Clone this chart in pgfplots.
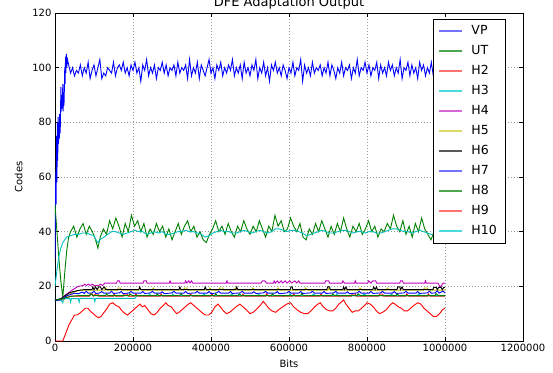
\documentclass[border=0pt]{standalone}
\usepackage{fontspec}
\setmainfont{DejaVu Sans}
\usepackage{pgfplots}
\pgfplotsset{compat=1.18}

\definecolor{mb}{rgb}{0,0,1}
\definecolor{mg}{rgb}{0,0.5,0}
\definecolor{mr}{rgb}{1,0,0}
\definecolor{mc}{rgb}{0,0.75,0.75}
\definecolor{mm}{rgb}{0.75,0,0.75}
\definecolor{my}{rgb}{0.75,0.75,0}
\definecolor{lb}{rgb}{0.45,0.45,1}
\definecolor{lg}{rgb}{0.3,0.65,0.3}
\definecolor{lr}{rgb}{1,0.45,0.45}
\definecolor{lc}{rgb}{0.3,0.85,0.85}
\definecolor{lm}{rgb}{0.85,0.4,0.85}
\definecolor{ly}{rgb}{0.85,0.85,0.4}
\definecolor{lk}{rgb}{0.35,0.35,0.35}

\begin{document}
\begin{tikzpicture}
\begin{axis}[
  scale only axis, width=468pt, height=328pt,
  xmin=0, xmax=1200000, ymin=0, ymax=120,
  xtick={0,200000,400000,600000,800000,1000000,1200000},
  ytick={0,20,40,60,80,100,120},
  scaled x ticks=false,
  x tick label style={/pgf/number format/fixed,/pgf/number format/1000 sep={}},
  /pgf/number format/assume math mode=true,
  tick label style={font=\fontsize{10}{12}\selectfont},
  label style={font=\fontsize{10}{12}\selectfont},
  xlabel={Bits}, ylabel={Codes},
  xlabel style={yshift=-1pt}, ylabel style={yshift=3pt},
  grid=major,
  major grid style={dash pattern=on 1pt off 2pt, gray!80, line width=0.5pt},
  tick align=inside, major tick length=4pt,
  tick style={black, line width=0.6pt},
  axis line style={line width=0.8pt},
  legend style={at={(0.9615,0.982)}, anchor=north east,
    font=\fontsize{12.5}{15}\selectfont, inner xsep=5pt, inner ysep=2pt,
    nodes={text height=9pt, text depth=2.5pt, inner ysep=4.25pt, inner xsep=3pt},
    column sep=6pt},
  legend cell align=left,
]
% VP
\addplot[color=mb, line width=0.9pt, forget plot] coordinates {
(0,30)(1000,45)(2000,62)(3000,50)(4000,75)(5000,58)(6000,80)(7000,66)(8000,82)(9000,72)(10000,80)(11000,74)(12000,83)(13000,76)(14000,80)(15000,93)(16000,84)(17000,90)(18000,85)(19000,88)(20000,94)(21000,84)(22000,91)(23000,86)(24000,92)(25000,100)(26000,94)(27000,104)(28000,98)(29000,105)(30000,100)(32000,103)
(35000,101)(40000,98)(45000,100)(50000,97)(55000,99)(60000,98)(65000,101)(70000,97)(75000,100)(80000,98)(85000,102)(90000,96)(95000,99)(100000,101)(105000,97)(110000,100)(115000,103)(120000,96)(125000,98)(130000,97)(135000,100)(140000,99)(145000,98)(150000,102)(155000,97)(160000,100)(165000,101)(170000,99)(175000,102)(180000,98)(185000,100)(190000,97)(195000,101)(200000,99)
(205000,102)(210000,98)(215000,100)(220000,95)(225000,101)(230000,99)(235000,103)(240000,97)(245000,100)(250000,98)(255000,101)(260000,96)(265000,100)(270000,99)(275000,102)(280000,98)(285000,101)(290000,97)(295000,100)(300000,99)(305000,101)(310000,97)(315000,102)(320000,98)(325000,100)(330000,99)(335000,101)(340000,96)(345000,103)(350000,97)(355000,100)(360000,98)(365000,102)(370000,96)(375000,101)(380000,99)(385000,97)(390000,100)(395000,103)(400000,98)
(405000,100)(410000,96)(415000,101)(420000,99)(425000,102)(430000,97)(435000,100)(440000,98)(445000,101)(450000,99)(455000,103)(460000,97)(465000,100)(470000,98)(475000,101)(480000,96)(485000,102)(490000,98)(495000,100)(500000,97)(505000,101)(510000,99)(515000,103)(520000,96)(525000,100)(530000,98)(535000,102)(540000,97)(545000,100)(550000,95)(555000,101)(560000,99)(565000,102)(570000,98)(575000,100)(580000,97)(585000,101)(590000,99)(595000,96)(600000,100)
(605000,98)(610000,102)(615000,97)(620000,100)(625000,99)(630000,103)(635000,95)(640000,101)(645000,98)(650000,100)(655000,97)(660000,102)(665000,98)(670000,100)(675000,99)(680000,101)(685000,97)(690000,100)(695000,98)(700000,102)(705000,97)(710000,101)(715000,99)(720000,96)(725000,100)(730000,98)(735000,102)(740000,97)(745000,100)(750000,99)(755000,101)(760000,96)(765000,100)(770000,98)(775000,103)(780000,97)(785000,100)(790000,99)(795000,102)(800000,98)
(805000,101)(810000,97)(815000,100)(820000,99)(825000,102)(830000,96)(835000,101)(840000,98)(845000,100)(850000,97)(855000,102)(860000,99)(865000,101)(870000,97)(875000,100)(880000,98)(885000,103)(890000,96)(895000,100)(900000,99)(905000,102)(910000,97)(915000,101)(920000,98)(925000,100)(930000,96)(935000,102)(940000,99)(945000,101)(950000,97)(955000,100)(960000,98)(965000,102)(970000,97)(975000,101)(980000,99)(985000,96)(990000,100)(995000,98)(1000000,101)
};
% UT
\addplot[color=mg, line width=0.9pt, forget plot] coordinates {
(0,50)(5000,40)(10000,30)(15000,22)(20000,16)(25000,25)(30000,33)(35000,38)
(40000,40)(48000,42)(56000,38)(64000,41)(72000,43)(80000,39)(88000,42)(96000,40)(104000,37)(110000,34)(116000,38)(124000,41)(132000,39)(140000,44)(148000,41)(156000,45)(164000,42)(172000,38)(180000,43)(188000,40)(196000,46)(204000,42)(212000,44)(220000,40)(228000,43)(236000,38)(244000,41)(252000,39)(260000,43)(268000,40)(276000,42)(284000,38)(292000,41)(300000,37)
(308000,40)(316000,43)(324000,39)(332000,42)(340000,44)(348000,40)(356000,42)(364000,38)(372000,40)(380000,37)(388000,36)(396000,39)(404000,41)(412000,44)(420000,40)(428000,42)(436000,39)(444000,43)(452000,40)(460000,38)(468000,42)(476000,40)(484000,44)(492000,41)(500000,39)(508000,42)(516000,40)(524000,44)(532000,41)(540000,38)(548000,42)(556000,40)(564000,46)(572000,42)(580000,44)(588000,40)(596000,41)
(604000,45)(612000,42)(620000,40)(628000,43)(636000,38)(644000,37)(652000,41)(660000,39)(668000,43)(676000,40)(684000,44)(692000,41)(700000,38)(708000,42)(716000,39)(724000,43)(732000,40)(740000,45)(748000,41)(756000,38)(764000,42)(772000,40)(780000,43)(788000,39)(796000,41)(804000,44)(812000,40)(820000,42)(828000,38)(836000,41)(844000,40)(852000,43)(860000,41)(868000,46)(876000,42)(884000,40)(892000,44)(900000,39)
(908000,42)(916000,38)(924000,43)(932000,40)(940000,45)(948000,41)(956000,39)(964000,37)(972000,40)(980000,38)(988000,41)(996000,40)(1000000,38)
};
% H2
\addplot[color=mr, line width=0.9pt, forget plot] coordinates {
(0,15)(20000,15)(30000,15.8)(40000,16.4)(88000,16.4)(90000,17.2)(96000,17.2)(98000,16.4)(104000,17.2)(110000,17.2)(112000,16.4)(150000,16.4)(152000,17.2)(155000,16.4)(175000,16.4)(177000,17.2)(186000,17.2)(188000,16.4)(205000,16.4)(207000,17.2)(212000,16.4)(270000,16.4)(272000,17.2)(275000,16.4)(345000,16.4)(347000,17.2)(352000,16.4)(400000,16.4)(402000,17.2)(406000,16.4)(480000,16.4)(482000,17.2)(485000,16.4)(540000,16.4)(542000,17.2)(548000,16.4)(610000,16.4)(612000,17.2)(616000,16.4)(680000,16.4)(682000,17.2)(685000,16.4)(760000,16.4)(762000,17.2)(770000,17.2)(772000,16.4)(830000,16.4)(832000,17.2)(840000,17.2)(842000,16.4)(900000,16.4)(902000,17.2)(906000,16.4)(955000,16.4)(957000,17.2)(962000,16.4)(1000000,16.4)
};
% H3
\addplot[color=mc, line width=0.9pt, forget plot] coordinates {
(0,14.8)(15000,15)(20000,14)(22000,15.5)(38000,15.5)(40000,14.2)(42000,15.5)(60000,15.5)(62000,14.2)(64000,15.6)(100000,15.6)(102000,14.4)(104000,15.6)(205000,15.6)(210000,16.6)(240000,16.6)(242000,17.2)(246000,16.6)(300000,16.6)(302000,17.2)(305000,16.6)(380000,16.6)(382000,17.2)(386000,16.6)(450000,16.6)(452000,17.3)(458000,16.6)(520000,16.6)(522000,17.2)(526000,16.6)(600000,16.6)(602000,17.3)(606000,16.6)(660000,16.6)(662000,17.2)(668000,16.6)(720000,16.6)(722000,17.2)(726000,16.6)(790000,16.6)(792000,17.3)(798000,16.6)(860000,16.6)(862000,17.2)(866000,16.6)(930000,16.6)(932000,17.2)(938000,16.6)(1000000,16.6)
};
% H4
\addplot[color=mm, line width=0.9pt, forget plot] coordinates {
(0,15)(12000,15)(20000,16)(28000,17)(38000,18)(48000,19)(60000,20)(72000,20.3)(76000,20.8)(80000,20.3)(86000,20.8)(90000,20.3)(96000,20.8)(100000,20.3)(112000,20.3)(116000,20.8)(122000,20.3)(128000,21.2)(158000,21.2)(160000,22)(165000,22)(167000,21.2)(226000,21.2)(228000,22)(234000,22)(236000,21.2)(293000,21.2)(295000,22)(297000,21.2)(333000,21.2)(335000,22)(338000,21.2)(343000,22)(346000,21.2)(350000,22)(353000,21.2)(439000,21.2)(441000,22)(443000,21.2)(528000,21.2)(532000,22)(538000,22)(542000,21.2)(560000,21.2)(562000,22)(565000,21.2)(570000,22)(574000,21.2)(580000,22)(584000,21.2)(590000,22)(595000,21.2)(602000,22)(607000,21.2)(615000,22)(620000,21.2)(625000,22)(628000,21.2)(692000,21.2)(694000,22)(702000,22)(704000,21.2)(736000,21.2)(738000,22)(742000,21.2)(768000,21.2)(770000,22)(772000,21.2)(802000,21.2)(804000,22)(810000,21.2)(815000,22)(822000,22)(825000,21.2)(884000,21.2)(886000,22)(891000,22)(893000,21.2)(948000,21.2)(950000,22)(952000,21.2)(982000,21.2)(986000,20)(990000,20)(995000,21.2)(1000000,21.2)
};
% H5
\addplot[color=my, line width=0.9pt, forget plot] coordinates {
(0,15)(15000,15.3)(25000,16)(35000,17)(50000,18)(65000,18.6)(128000,18.6)(130000,19.4)(134000,18.6)(160000,18.6)(162000,19.4)(168000,19.4)(170000,18.6)(215000,18.6)(217000,19.4)(222000,18.6)(250000,18.6)(252000,19.4)(256000,18.6)(330000,18.6)(332000,19.4)(338000,19.4)(340000,18.6)(395000,18.6)(397000,19.4)(402000,18.6)(420000,18.6)(422000,19.4)(430000,19.4)(432000,18.6)(460000,18.6)(462000,19.4)(466000,18.6)(505000,18.6)(507000,19.4)(512000,18.6)(570000,18.6)(572000,19.4)(576000,18.6)(640000,18.6)(642000,19.4)(648000,18.6)(700000,18.6)(702000,19.4)(706000,18.6)(780000,18.6)(782000,19.4)(788000,18.6)(850000,18.6)(852000,19.4)(856000,18.6)(945000,18.6)(947000,19.4)(955000,19.4)(957000,18.6)(1000000,18.6)
};
% H6
\addplot[color=black, line width=0.9pt, forget plot] coordinates {
(0,15)(15000,15.5)(25000,16.5)(35000,17.5)(45000,18)(60000,18.5)(75000,18.8)(95000,18.8)(97000,19.8)(100000,18.8)(104000,19.8)(108000,18.8)(112000,19.8)(116000,19.8)(120000,18.8)(126000,19.8)(130000,18.8)(215000,18.8)(217000,19.8)(220000,18.8)(318000,18.8)(320000,19.8)(323000,18.8)(383000,18.8)(385000,19.8)(388000,18.8)(464000,18.8)(466000,19.8)(469000,18.8)(603000,18.8)(605000,19.8)(608000,19.8)(610000,18.8)(697000,18.8)(699000,19.8)(704000,19.8)(706000,18.8)(738000,18.8)(740000,19.8)(743000,18.8)(746000,19.8)(749000,18.8)(815000,18.8)(817000,19.8)(821000,18.8)(824000,19.8)(827000,18.8)(877000,18.8)(879000,19.8)(884000,19.8)(886000,18.8)(890000,19.8)(893000,18.8)(969000,18.8)(971000,19.6)(978000,19.6)(980000,18.8)(984000,19.6)(990000,19.6)(993000,18.8)(997000,19.6)(1000000,19.6)
};
% H7
\addplot[color=mb, line width=0.9pt, forget plot] coordinates {
(0,14.8)(10000,15)(20000,15.5)(30000,16.5)(40000,17)(50000,17.5)(60000,17.3)(70000,17.9)(75000,17.4)(80000,18.2)(85000,17.5)(95000,17.6)(100000,18.2)(105000,17.4)(115000,17.6)(120000,18.1)(125000,17.5)(140000,17.5)(145000,18.2)(150000,17.4)(165000,17.6)(170000,18.1)(175000,17.3)(190000,17.6)(195000,18.2)(200000,17.5)(220000,17.5)(225000,18.1)(230000,17.4)(245000,17.6)(250000,18.2)(255000,17.5)(270000,17.5)(275000,18.0)(280000,17.3)(300000,17.6)(305000,18.2)(310000,17.5)(330000,17.5)(335000,18.1)(340000,17.4)(360000,17.6)(365000,18.2)(370000,17.5)(390000,17.5)(395000,18.1)(400000,17.3)(415000,17.6)(420000,18.2)(425000,17.5)(445000,17.5)(450000,18.1)(455000,17.4)(475000,17.6)(480000,18.2)(485000,17.5)(505000,17.5)(510000,18.0)(515000,17.4)(535000,17.6)(540000,18.2)(545000,17.5)(565000,17.5)(570000,18.1)(575000,17.3)(595000,17.6)(600000,18.2)(605000,17.5)(625000,17.5)(630000,18.1)(635000,17.4)(655000,17.6)(660000,18.2)(665000,17.5)(685000,17.5)(690000,18.1)(695000,17.4)(715000,17.6)(720000,18.2)(725000,17.5)(745000,17.5)(750000,18.0)(755000,17.3)(775000,17.6)(780000,18.2)(785000,17.5)(805000,17.5)(810000,18.1)(815000,17.4)(835000,17.6)(840000,18.2)(845000,17.5)(865000,17.5)(870000,18.1)(875000,17.4)(895000,17.6)(900000,18.2)(905000,17.5)(925000,17.5)(930000,18.1)(935000,17.4)(955000,17.6)(960000,18.2)(965000,17.5)(975000,17.6)(980000,18.4)(985000,17.5)(995000,18.3)(1000000,17.6)
};
% H8
\addplot[color=mg, line width=0.9pt, forget plot] coordinates {
(0,15)(15000,15.2)(30000,16)(45000,16.4)(60000,16.6)(90000,16.6)(92000,17.3)(97000,16.6)(130000,16.6)(132000,17.3)(136000,16.6)(190000,16.6)(192000,17.3)(198000,16.6)(260000,16.6)(262000,17.3)(266000,16.6)(320000,16.6)(322000,17.3)(328000,16.6)(410000,16.6)(412000,17.3)(416000,16.6)(470000,16.6)(472000,17.3)(478000,16.6)(555000,16.6)(557000,17.3)(562000,16.6)(630000,16.6)(632000,17.3)(638000,16.6)(710000,16.6)(712000,17.3)(716000,16.6)(775000,16.6)(777000,17.3)(783000,16.6)(875000,16.6)(877000,17.3)(882000,16.6)(975000,16.6)(977000,17.3)(983000,16.6)(1000000,16.6)
};
% H9
\addplot[color=mr, line width=0.9pt, forget plot] coordinates {
(0,0)(20000,0)(28000,3)(36000,6)(44000,8)(50000,9.5)(56000,9.5)(62000,10)(70000,11)(78000,12)(84000,12)(90000,11)(98000,10)(106000,9)(112000,8.5)(118000,9)(126000,10.5)(134000,12)(140000,13.5)(148000,14)(156000,13)(164000,12.5)(172000,11)(180000,10)(186000,9.5)(194000,10.5)(202000,11.5)(210000,12.5)(218000,13.5)(224000,12.5)(230000,13)(238000,11.5)(246000,10)(254000,9.5)(262000,10.5)(270000,12)(278000,13)(284000,14)(290000,13)(298000,12.5)(306000,11)(312000,10)(318000,10.5)(326000,11.5)(334000,12.5)(342000,13.5)(348000,14)(356000,13)(364000,12)(372000,11)(380000,10)(386000,9.5)(394000,9.5)(402000,10.5)(410000,12.5)(418000,13.5)(424000,12.5)(432000,11)(440000,10)(448000,10.5)(456000,11.5)(464000,12.5)(474000,13.5)(482000,12.5)(490000,11.5)(500000,10)
(508000,10.5)(516000,11.5)(526000,13)(534000,14.5)(540000,13.5)(548000,12)(556000,11)(566000,10.5)(574000,11.5)(584000,12.5)(594000,13.5)(604000,14)(612000,12.5)(620000,11.5)(630000,10.5)(640000,10)(648000,10)(656000,11)(666000,12.5)(674000,13.5)(680000,14)(688000,12.5)(696000,11.5)(704000,11)(712000,11)(720000,12)(728000,13.5)(736000,14.5)(740000,15)(746000,13.5)(754000,12)(762000,10.5)(770000,11)(778000,11)(786000,12)(794000,13)(800000,14)(808000,13.5)(816000,12.5)(824000,11)(832000,10)(840000,10.5)(850000,11.5)(858000,13)(866000,14)(872000,13.5)(880000,12.5)(888000,12)(896000,11)(904000,11)(912000,12)(920000,13)(930000,14)(938000,13.5)(946000,12)(954000,11)(962000,10)(970000,9)(978000,9)(986000,10)(994000,11.5)(1000000,12)
};
% H10
\addplot[color=mc, line width=0.9pt, forget plot] coordinates {
(0,20)(5000,26)(10000,31)(15000,34)(20000,36)(30000,38)(40000,38.5)(50000,39)(60000,39)(70000,39.5)(80000,39.5)(90000,39)(100000,38.5)(105000,37)(110000,36)(115000,37)(125000,38)(135000,39)(145000,40)(155000,40)(165000,39.5)(175000,39)(185000,39.5)(195000,40)(205000,40.5)(215000,40)(225000,40)(235000,39)(245000,39.5)(255000,40)(265000,39.5)(275000,40)(285000,39)(295000,39)(305000,39.5)(315000,40)(325000,40)(335000,40.5)(345000,40)(355000,40)(365000,39.5)(375000,39)(385000,38)(395000,38.5)(405000,39.5)(415000,40)(425000,40.5)(435000,40)(445000,40)(455000,39.5)(465000,39.5)(475000,40)(485000,40.5)(495000,40)
(505000,39.5)(515000,40)(525000,40.5)(535000,40)(545000,39.5)(555000,40)(565000,41)(575000,41)(585000,40.5)(595000,40)(605000,40.5)(615000,40.5)(625000,40)(635000,39.5)(645000,38.5)(655000,39)(665000,39.5)(675000,40)(685000,40.5)(695000,40)(705000,39.5)(715000,39.5)(725000,40)(735000,40.5)(745000,40.5)(755000,40)(765000,39.5)(775000,40)(785000,40)(795000,39.5)(805000,40)(815000,40)(825000,39.5)(835000,39.5)(845000,40)(855000,40.5)(865000,41)(875000,41)(885000,40.5)(895000,40)(905000,40)(915000,39.5)(925000,40)(935000,40.5)(945000,40)(955000,39.5)(965000,39)(975000,39)(985000,39.5)(995000,39)(1000000,39)
};
% legend, lighter like the reference
\addlegendimage{lb, line width=1.3pt, xscale=1.35}\addlegendentry{VP}
\addlegendimage{lg, line width=1.3pt, xscale=1.35}\addlegendentry{UT}
\addlegendimage{lr, line width=1.3pt, xscale=1.35}\addlegendentry{H2}
\addlegendimage{lc, line width=1.3pt, xscale=1.35}\addlegendentry{H3}
\addlegendimage{lm, line width=1.3pt, xscale=1.35}\addlegendentry{H4}
\addlegendimage{ly, line width=1.3pt, xscale=1.35}\addlegendentry{H5}
\addlegendimage{lk, line width=1.3pt, xscale=1.35}\addlegendentry{H6}
\addlegendimage{lb, line width=1.3pt, xscale=1.35}\addlegendentry{H7}
\addlegendimage{lg, line width=1.3pt, xscale=1.35}\addlegendentry{H8}
\addlegendimage{lr, line width=1.3pt, xscale=1.35}\addlegendentry{H9}
\addlegendimage{lc, line width=1.3pt, xscale=1.35}\addlegendentry{H10}
\end{axis}
\node[anchor=base, font=\fontsize{13}{15}\selectfont] at ([yshift=6pt]current axis.north) {DFE Adaptation Output};
\pgfresetboundingbox
\path ([xshift=-55pt,yshift=-31pt]current axis.south west) rectangle ([xshift=30pt,yshift=13pt]current axis.north east);
\end{tikzpicture}
\end{document}
